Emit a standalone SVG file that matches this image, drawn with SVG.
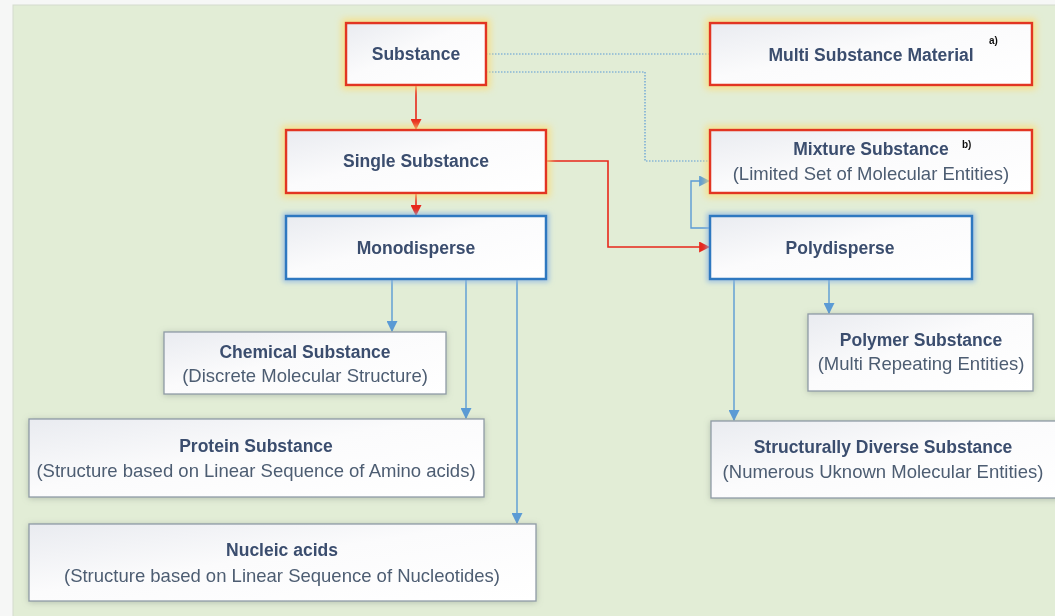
<svg xmlns="http://www.w3.org/2000/svg" width="1055" height="616" viewBox="0 0 1055 616">
  <defs>
    <linearGradient id="boxFill" x1="0" y1="0" x2="1" y2="1">
      <stop offset="0" stop-color="#e9ebf0"/>
      <stop offset="0.45" stop-color="#fbfbfc"/>
      <stop offset="1" stop-color="#ffffff"/>
    </linearGradient>
    <filter id="glowGold" x="-20%" y="-40%" width="140%" height="180%">
      <feMorphology in="SourceAlpha" operator="dilate" radius="3" result="d"/>
      <feGaussianBlur in="d" stdDeviation="3.5" result="b"/>
      <feFlood flood-color="#fbdc78" flood-opacity="0.8"/>
      <feComposite in2="b" operator="in" result="g"/>
      <feMerge><feMergeNode in="g"/><feMergeNode in="SourceGraphic"/></feMerge>
    </filter>
    <filter id="glowBlue" x="-20%" y="-40%" width="140%" height="180%">
      <feMorphology in="SourceAlpha" operator="dilate" radius="2" result="d"/>
      <feGaussianBlur in="d" stdDeviation="2.5" result="b"/>
      <feFlood flood-color="#8fb8e2" flood-opacity="0.8"/>
      <feComposite in2="b" operator="in" result="g"/>
      <feMerge><feMergeNode in="g"/><feMergeNode in="SourceGraphic"/></feMerge>
    </filter>
    <filter id="shadow" x="-20%" y="-40%" width="140%" height="180%">
      <feGaussianBlur in="SourceAlpha" stdDeviation="3" result="b"/>
      <feOffset in="b" dx="0" dy="1" result="o"/>
      <feFlood flood-color="#7d8a80" flood-opacity="0.45"/>
      <feComposite in2="o" operator="in" result="s"/>
      <feMerge><feMergeNode in="s"/><feMergeNode in="SourceGraphic"/></feMerge>
    </filter>
    <marker id="arrRed" viewBox="0 0 10 10" refX="9" refY="5" markerWidth="11" markerHeight="11" markerUnits="userSpaceOnUse" orient="auto">
      <path d="M0,0 L10,5 L0,10 z" fill="#e8271b"/>
    </marker>
    <marker id="arrBlue" viewBox="0 0 10 10" refX="9" refY="5" markerWidth="11" markerHeight="11" markerUnits="userSpaceOnUse" orient="auto">
      <path d="M0,0 L10,5 L0,10 z" fill="#5b9bd5"/>
    </marker>
    <style>
      .red rect { fill: url(#boxFill); stroke: #e23420; stroke-width: 2.5; }
      .blue rect { fill: url(#boxFill); stroke: #2f78c0; stroke-width: 2.5; }
      .gray rect { fill: url(#boxFill); stroke: #8f9ba6; stroke-width: 1.3; }
      .t { font-family: "Liberation Sans", Arial, sans-serif; font-weight: bold; font-size: 17.5px; fill: #3a4d6e; text-anchor: middle; }
      .s { font-family: "Liberation Sans", Arial, sans-serif; font-size: 18.5px; fill: #4d5d72; text-anchor: middle; }
      .sup { font-family: "Liberation Sans", Arial, sans-serif; font-weight: bold; font-size: 10px; fill: #111; }
      .lr { fill: none; stroke: #e8271b; stroke-width: 1.6; }
      .lb { fill: none; stroke: #5b9bd5; stroke-width: 1.4; }
      .ld { fill: none; stroke: #5b9bd5; stroke-width: 1.2; stroke-dasharray: 1.5 1.5; }
    </style>
  </defs>

  <!-- page and panel -->
  <rect x="0" y="0" width="1055" height="616" fill="#f6f7f6"/>
  <rect x="13" y="5" width="1050" height="620" fill="#e2edd6" stroke="#d4dccd" stroke-width="1"/>

  <!-- connectors -->
  <g id="connectors">
    <line class="lr" x1="416" y1="85" x2="416" y2="129" marker-end="url(#arrRed)"/>
    <line class="lr" x1="416" y1="193" x2="416" y2="215" marker-end="url(#arrRed)"/>
    <polyline class="lr" points="546,161 608,161 608,247 709,247" marker-end="url(#arrRed)"/>
    <line class="ld" x1="486" y1="54" x2="710" y2="54"/>
    <polyline class="ld" points="486,72 645,72 645,161 710,161"/>
    <polyline class="lb" points="710,228 691,228 691,181 709,181" marker-end="url(#arrBlue)"/>
    <line class="lb" x1="392" y1="279" x2="392" y2="331" marker-end="url(#arrBlue)"/>
    <line class="lb" x1="466" y1="279" x2="466" y2="418" marker-end="url(#arrBlue)"/>
    <line class="lb" x1="517" y1="279" x2="517" y2="523" marker-end="url(#arrBlue)"/>
    <line class="lb" x1="829" y1="279" x2="829" y2="313" marker-end="url(#arrBlue)"/>
    <line class="lb" x1="734" y1="279" x2="734" y2="420" marker-end="url(#arrBlue)"/>
  </g>

  <!-- nodes -->
  <g id="substance" class="red" filter="url(#glowGold)">
    <rect x="346" y="23" width="140" height="62"/>
    <text class="t" x="416" y="60">Substance</text>
  </g>
  <g id="multi-substance-material" class="red" filter="url(#glowGold)">
    <rect x="710" y="23" width="322" height="62"/>
    <text class="t" x="871" y="61">Multi Substance Material</text>
    <text class="sup" x="989" y="44">a)</text>
  </g>
  <g id="single-substance" class="red" filter="url(#glowGold)">
    <rect x="286" y="130" width="260" height="63"/>
    <text class="t" x="416" y="167">Single Substance</text>
  </g>
  <g id="mixture-substance" class="red" filter="url(#glowGold)">
    <rect x="710" y="130" width="322" height="63"/>
    <text class="t" x="871" y="155">Mixture Substance</text>
    <text class="sup" x="962" y="148">b)</text>
    <text class="s" x="871" y="180">(Limited Set of Molecular Entities)</text>
  </g>
  <g id="monodisperse" class="blue" filter="url(#glowBlue)">
    <rect x="286" y="216" width="260" height="63"/>
    <text class="t" x="416" y="254">Monodisperse</text>
  </g>
  <g id="polydisperse" class="blue" filter="url(#glowBlue)">
    <rect x="710" y="216" width="262" height="63"/>
    <text class="t" x="840" y="254">Polydisperse</text>
  </g>
  <g id="chemical-substance" class="gray" filter="url(#shadow)">
    <rect x="164" y="332" width="282" height="62"/>
    <text class="t" x="305" y="358">Chemical Substance</text>
    <text class="s" x="305" y="382">(Discrete Molecular Structure)</text>
  </g>
  <g id="protein-substance" class="gray" filter="url(#shadow)">
    <rect x="29" y="419" width="455" height="78"/>
    <text class="t" x="256" y="452">Protein Substance</text>
    <text class="s" x="256" y="477">(Structure based on Linear Sequence of Amino acids)</text>
  </g>
  <g id="nucleic-acids" class="gray" filter="url(#shadow)">
    <rect x="29" y="524" width="507" height="77"/>
    <text class="t" x="282" y="556">Nucleic acids</text>
    <text class="s" x="282" y="582">(Structure based on Linear Sequence of Nucleotides)</text>
  </g>
  <g id="polymer-substance" class="gray" filter="url(#shadow)">
    <rect x="808" y="314" width="225" height="77"/>
    <text class="t" x="921" y="346">Polymer Substance</text>
    <text class="s" x="921" y="370">(Multi Repeating Entities)</text>
  </g>
  <g id="structurally-diverse-substance" class="gray" filter="url(#shadow)">
    <rect x="711" y="421" width="352" height="77"/>
    <text class="t" x="883" y="453">Structurally Diverse Substance</text>
    <text class="s" x="883" y="478">(Numerous Uknown Molecular Entities)</text>
  </g>
</svg>
